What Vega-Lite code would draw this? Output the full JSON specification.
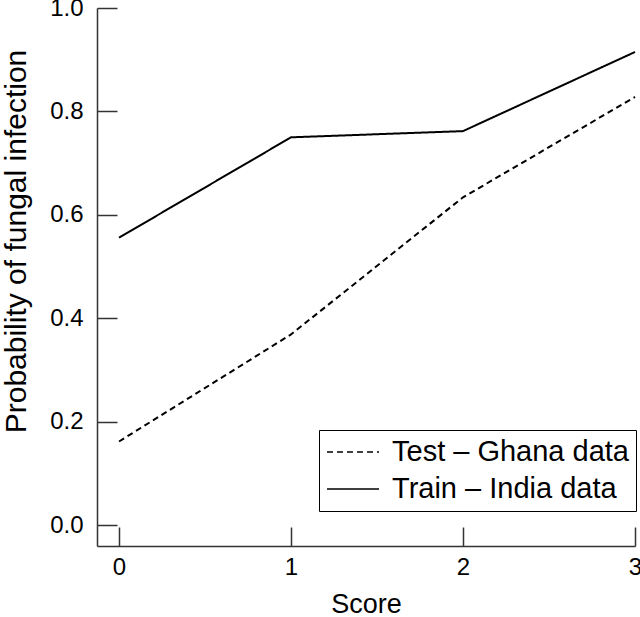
{
  "$schema": "https://vega.github.io/schema/vega-lite/v6.json",
  "width": 538,
  "height": 538,
  "autosize": {"type": "none"},
  "padding": {"left": 97, "top": 8, "right": 5, "bottom": 71},
  "background": "white",
  "config": {
    "font": "Liberation Sans",
    "view": {"stroke": null},
    "axis": {"grid": false}
  },
  "data": {
    "values": [
      {"score": 0, "prob": 0.162, "series": "Test – Ghana data"},
      {"score": 1, "prob": 0.369, "series": "Test – Ghana data"},
      {"score": 2, "prob": 0.634, "series": "Test – Ghana data"},
      {"score": 3, "prob": 0.828, "series": "Test – Ghana data"},
      {"score": 0, "prob": 0.556, "series": "Train – India data"},
      {"score": 1, "prob": 0.750, "series": "Train – India data"},
      {"score": 2, "prob": 0.762, "series": "Train – India data"},
      {"score": 3, "prob": 0.915, "series": "Train – India data"}
    ]
  },
  "mark": {"type": "line", "color": "black", "strokeWidth": 2},
  "encoding": {
    "x": {
      "field": "score", "type": "quantitative",
      "scale": {"domain": [-0.128, 3], "nice": false, "zero": false},
      "axis": {
        "values": [0, 1, 2, 3], "format": "d", "title": "Score",
        "tickSize": -19, "labelPadding": 28, "domainColor": "#333", "tickColor": "#333",
        "domainWidth": 1.5, "tickWidth": 1.5,
        "labelFontSize": 24, "labelColor": "black", "labelFlush": false,
        "titleFontSize": 27, "titleFontWeight": "normal", "titleColor": "black", "titlePadding": 12
      }
    },
    "y": {
      "field": "prob", "type": "quantitative",
      "scale": {"domain": [-0.04, 1.0], "nice": false, "zero": false},
      "axis": {
        "values": [0, 0.2, 0.4, 0.6, 0.8, 1.0], "format": ".1f", "title": "Probability of fungal infection",
        "tickSize": -20, "labelPadding": 34, "domainColor": "#333", "tickColor": "#333",
        "domainWidth": 1.5, "tickWidth": 1.5,
        "labelFontSize": 24, "labelColor": "black", "labelFlush": false,
        "titleFontSize": 30, "titleFontWeight": "normal", "titleColor": "black",
        "titleX": -72, "titleY": 233, "titleAngle": 270, "titleBaseline": "alphabetic"
      }
    },
    "strokeDash": {
      "field": "series", "type": "nominal",
      "scale": {"domain": ["Test – Ghana data", "Train – India data"], "range": [[6, 4], [1, 0]]},
      "legend": {
        "title": null, "orient": "none", "legendX": 222, "legendY": 422,
        "strokeColor": "black", "padding": 7,
        "labelFontSize": 29, "labelColor": "black", "labelOffset": 12, "labelLimit": 400,
        "symbolType": "stroke", "symbolSize": 2704, "symbolStrokeWidth": 1.5,
        "symbolStrokeColor": "black", "clipHeight": 30, "rowPadding": 7
      }
    }
  }
}
